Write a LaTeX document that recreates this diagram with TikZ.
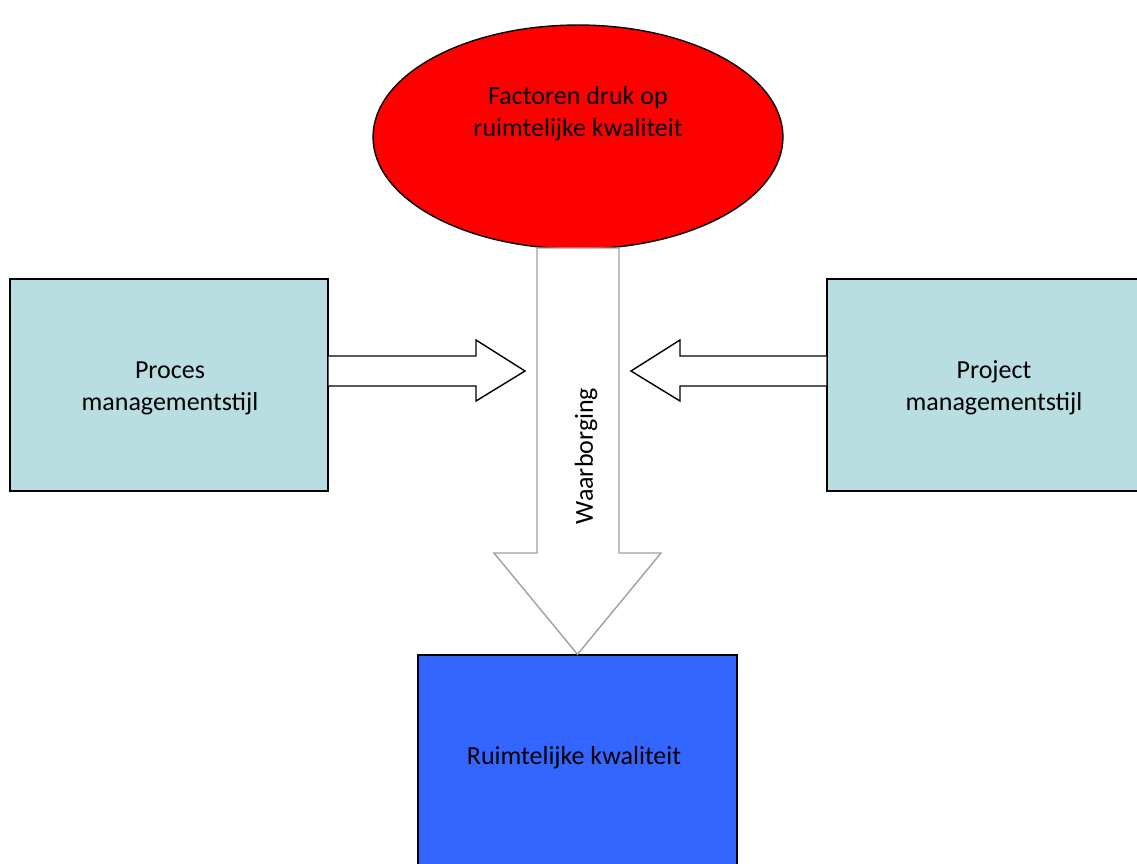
\documentclass[tikz,border=0pt]{standalone}
\usepackage{fontspec}
\setmainfont{Carlito}
\usetikzlibrary{shapes.geometric}
\definecolor{boxcyan}{RGB}{184,222,225}
\definecolor{boxblue}{RGB}{51,102,255}
\definecolor{arrowgray}{RGB}{160,160,160}
\begin{document}
\begin{tikzpicture}[x=0.02cm,y=-0.02cm]
		\clip (0,0) rectangle (1137,863);
		\useasboundingbox (0,0) rectangle (1137,863);
		\begin{scope}[scale=1]
		
		\tikzstyle{mybox}=[rectangle,
		draw=black,
		line width=0.8pt,
		inner sep=0pt,
		minimum width=6.36cm,
		minimum height=4.24cm,
		align=center,
		font=\fontsize{14.8}{18.2}\selectfont
		]
		\tikzstyle{mytext}=[align=center,
		inner sep=0pt,
		font=\fontsize{14.8}{18.2}\selectfont
		]
		\tikzstyle{blockarrow}=[draw=black,
		fill=white,
		line width=0.8pt,
		line join=miter
		]
		
		\coordinate (pfac) at (578, 137);
		\coordinate (pproc) at (169, 385);
		\coordinate (pproj) at (986, 385);
		\coordinate (pruim) at (577.5, 761);
		
		\node[ellipse, draw=black, line width=0.8pt, fill=red,
		minimum width=8.2cm, minimum height=4.48cm, inner sep=0pt] (fac) at (pfac) {};
		\node[mytext] (factxt) at (578, 114) {Factoren druk op\\ruimtelijke kwaliteit};
		
		\node[mybox, fill=boxcyan] (proc) at (pproc) {};
		\node[mytext] (proctxt) at (170, 388) {Proces\\managementstijl};
		\node[mybox, fill=boxcyan] (proj) at (pproj) {};
		\node[mytext] (projtxt) at (994, 388) {Project\\managementstijl};
		\node[mybox, fill=boxblue, minimum width=6.38cm] (ruim) at (pruim) {};
		\node[mytext] (ruimtxt) at (574, 758) {Ruimtelijke kwaliteit};
		
		% waarborging
		\draw[blockarrow, draw=arrowgray] (537, 248) -- (619, 248) -- (619, 553) -- (661, 553)
		-- (ruim.north) -- (494, 553) -- (537, 553) -- cycle;
		\node[mytext, rotate=90] (waar) at (586, 456) {Waarborging};
		
		% links en rechts
		\draw[blockarrow] (proc.east |- 0, 356) -- (476, 356) -- (476, 340) -- (525, 371)
		-- (476, 401) -- (476, 386) -- (proc.east |- 0, 386);
		\draw[blockarrow] (proj.west |- 0, 356) -- (680, 356) -- (680, 340) -- (631, 371)
		-- (680, 401) -- (680, 386) -- (proj.west |- 0, 386);
		
		\end{scope}
\end{tikzpicture}
\end{document}
